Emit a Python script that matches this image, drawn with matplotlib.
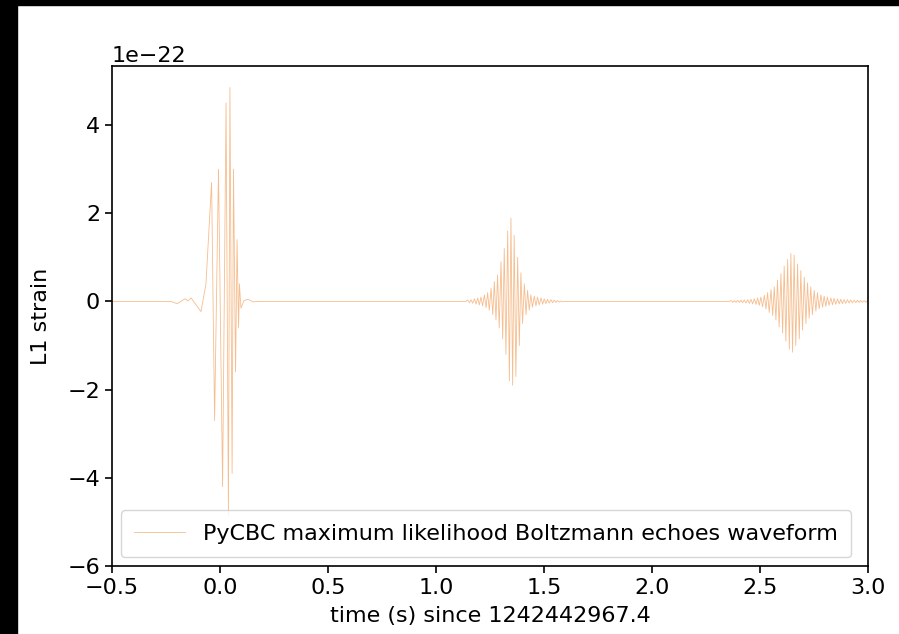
import numpy as np
import matplotlib
matplotlib.use('Agg')
import matplotlib.pyplot as plt
from matplotlib.patches import Rectangle

# values, strain in units of 1e-22, time in s
main_t = [-0.5, -0.227, -0.199, -0.162, -0.148, -0.134, -0.088, -0.065, -0.039, -0.025,
          -0.007, 0.012, 0.028, 0.039, 0.046, 0.056, 0.0625, 0.072, 0.079,
          0.086, 0.090, 0.097, 0.111, 0.130, 0.153, 0.176]
main_h = [0.0, 0.0, -0.05, 0.06, 0.01, 0.08, -0.23, 0.4, 2.7, -2.7,
          3.0, -4.2, 4.5, -4.85, 4.85, -3.9, 3.0, -1.6, 1.4,
          -0.6, 0.4, -0.15, 0.02, 0.05, -0.01, 0.0]

half_cycle = 0.0077

echo1_t = [1.147, 1.162, 1.178, 1.193, 1.208, 1.224, 1.239, 1.255, 1.270, 1.285,
           1.301, 1.316, 1.332, 1.347, 1.362, 1.378, 1.393, 1.409, 1.424, 1.439,
           1.455, 1.470, 1.486, 1.501, 1.516, 1.532, 1.547, 1.562, 1.578]
echo1_hi = [0.03, 0.04, 0.06, 0.08, 0.1, 0.15, 0.2, 0.3, 0.45, 0.6,
            0.9, 1.2, 1.6, 1.89, 1.5, 1.0, 0.65, 0.4, 0.25, 0.15,
            0.12, 0.1, 0.08, 0.06, 0.05, 0.04, 0.03, 0.02, 0.01]
echo1_lo = [-0.03, -0.04, -0.06, -0.08, -0.1, -0.14, -0.2, -0.3, -0.42, -0.6,
            -0.85, -1.2, -1.8, -1.9, -1.7, -1.0, -0.5, -0.3, -0.2, -0.13,
            -0.1, -0.08, -0.06, -0.05, -0.04, -0.03, -0.02, -0.015, -0.01]

echo2_t = [2.366, 2.381, 2.397, 2.412, 2.427, 2.443, 2.458, 2.474, 2.489, 2.504,
           2.520, 2.535, 2.551, 2.566, 2.581, 2.597, 2.612, 2.628, 2.643, 2.658,
           2.674, 2.689, 2.705, 2.720, 2.735, 2.751, 2.766, 2.782, 2.797, 2.812,
           2.828, 2.843, 2.859, 2.874, 2.889, 2.905, 2.920, 2.936, 2.951, 2.966,
           2.982, 2.997]
echo2_hi = [0.02, 0.02, 0.025, 0.03, 0.035, 0.04, 0.05, 0.06, 0.08, 0.1,
            0.14, 0.2, 0.27, 0.33, 0.48, 0.63, 0.8, 0.95, 1.09, 1.05,
            0.85, 0.7, 0.55, 0.42, 0.33, 0.25, 0.2, 0.15, 0.12, 0.1,
            0.08, 0.07, 0.06, 0.05, 0.045, 0.04, 0.035, 0.03, 0.03, 0.025,
            0.02, 0.02]
echo2_lo = [-0.02, -0.02, -0.025, -0.03, -0.035, -0.045, -0.055, -0.07, -0.09, -0.12,
            -0.17, -0.25, -0.32, -0.42, -0.58, -0.72, -0.9, -1.08, -1.15, -1.0,
            -0.85, -0.65, -0.5, -0.38, -0.3, -0.22, -0.17, -0.13, -0.11, -0.09,
            -0.075, -0.065, -0.055, -0.048, -0.042, -0.037, -0.032, -0.03, -0.027, -0.022,
            -0.02, -0.02]


def echo(t, hi, lo):
    t = np.asarray(t)
    tt = np.column_stack([t, t + half_cycle]).ravel()
    hh = np.column_stack([hi, lo]).ravel()
    return tt, hh


e1_t, e1_h = echo(echo1_t, echo1_hi, echo1_lo)
e2_t, e2_h = echo(echo2_t, echo2_hi, echo2_lo)
t = np.concatenate([main_t, [e1_t[0] - 0.01], e1_t, [e1_t[-1] + 0.01],
                    [e2_t[0] - 0.01], e2_t])
h = np.concatenate([main_h, [0.0], e1_h, [0.0], [0.0], e2_h]) * 1e-22

plt.rcParams['font.size'] = 16
fig = plt.figure(figsize=(8.99, 6.34), dpi=100)
ax = fig.add_axes([112 / 899, 68 / 634, 756 / 899, 500 / 634])
ax.plot(t, h, color='#f6bd8e', lw=0.6,
        label='PyCBC maximum likelihood Boltzmann echoes waveform')
ax.set_xlim(-0.5, 3.0)
ax.set_ylim(-6e-22, 5.34e-22)
ax.set_xlabel('time (s) since 1242442967.4', labelpad=6)
ax.set_ylabel('L1 strain', labelpad=12)
for s in ax.spines.values():
    s.set_linewidth(1.2)
ax.tick_params(width=1.2, length=5)
ax.legend(loc='lower left', borderaxespad=0.4, borderpad=0.6, handlelength=2.3)

# black border of the screenshot
fig.patches.append(Rectangle((0, 0), 17 / 899, 1, transform=fig.transFigure,
                             color='black', zorder=10))
fig.patches.append(Rectangle((0, 1 - 5 / 634), 1, 5 / 634, transform=fig.transFigure,
                             color='black', zorder=10))

fig.savefig('out.png', dpi=100)
